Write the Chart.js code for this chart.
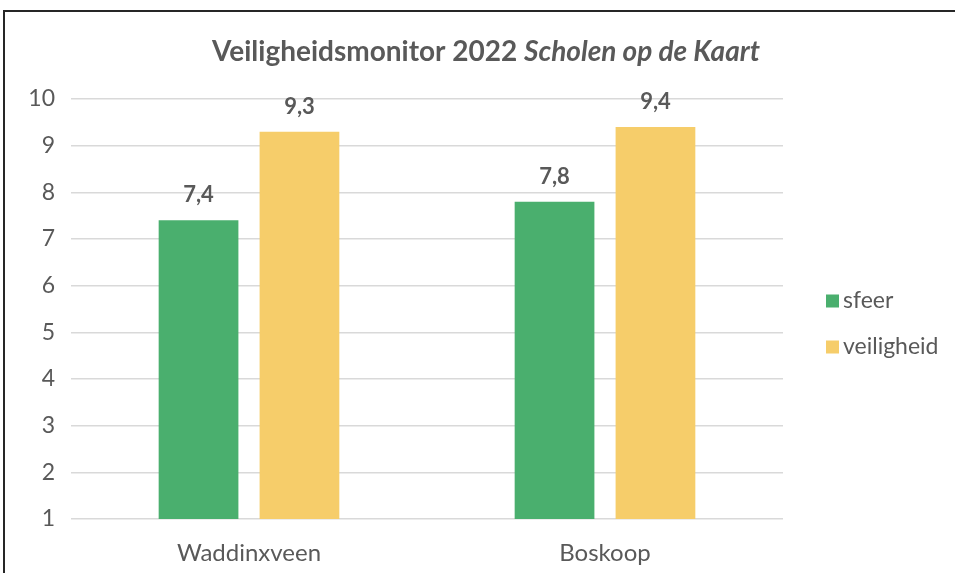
<!DOCTYPE html>
<html>
<head>
<meta charset="utf-8">
<script src="https://cdn.jsdelivr.net/npm/chart.js@4"></script>
<style>
    body { margin: 0; background: #fff; overflow: hidden; }
    #wrap { position: absolute; left: 0; top: 0; width: 955px; height: 573px; }
    #frame { position: absolute; left: 3px; top: 10px; width: 1000px; height: 1000px; border: 2px solid #262626; pointer-events: none; }
</style>
</head>
<body>
<div id="wrap"><canvas id="chart"></canvas></div>
<div id="frame"></div>
<script>
// DATOS
const categories = ['Waddinxveen', 'Boskoop'];
const sfeer = [7.4, 7.8];
const veiligheid = [9.3, 9.4];
const seriesNames = ['sfeer', 'veiligheid'];
const seriesColors = ['#4AAF6E', '#F6CD6A'];
const yTicks = [1, 2, 3, 4, 5, 6, 7, 8, 9, 10];
const titleMain = 'Veiligheidsmonitor 2022 ';
const titleItalic = 'Scholen op de Kaart';

const FONT = 'Lato, "Open Sans", sans-serif';
const GREY = '#595959';

// TITEL MET CURSIEF DEEL
const titlePlugin = {
    id: 'mixedTitle',
    afterDraw(chart) {
        const ctx = chart.ctx;
        ctx.save();
        ctx.fillStyle = GREY;
        ctx.textBaseline = 'middle';
        const f1 = 'bold 28px ' + FONT;
        const f2 = 'italic bold 28px ' + FONT;
        ctx.font = f1;
        const w1 = ctx.measureText(titleMain).width;
        ctx.font = f2;
        const w2 = ctx.measureText(titleItalic).width;
        let x = 486 - (w1 + w2) / 2;
        ctx.font = f1;
        ctx.fillText(titleMain, x, 52);
        ctx.font = f2;
        ctx.fillText(titleItalic, x + w1, 52);
        ctx.restore();
    }
};

// WAARDEN BOVEN DE STAAFJES
const labelPlugin = {
    id: 'barLabels',
    afterDatasetsDraw(chart) {
        const ctx = chart.ctx;
        ctx.save();
        ctx.fillStyle = GREY;
        ctx.font = 'bold 22px ' + FONT;
        ctx.textAlign = 'center';
        ctx.textBaseline = 'middle';
        chart.data.datasets.forEach((ds, i) => {
            chart.getDatasetMeta(i).data.forEach((bar, j) => {
                const txt = ds.data[j].toFixed(1).replace('.', ',');
                ctx.fillText(txt, bar.x, bar.y - 25);
            });
        });
        ctx.restore();
    }
};

// LEGENDA RECHTS (zoals Excel: klein vierkantje, tekst er vlak naast)
const legendPlugin = {
    id: 'sideLegend',
    afterDraw(chart) {
        const ctx = chart.ctx;
        const x = chart.chartArea.right + 43;
        const y0 = 301;
        ctx.save();
        ctx.font = '23px ' + FONT;
        ctx.textBaseline = 'middle';
        chart.data.datasets.forEach((ds, i) => {
            const y = y0 + i * 46;
            ctx.fillStyle = ds.backgroundColor;
            ctx.fillRect(x, y - 6.5, 13, 13);
            ctx.fillStyle = GREY;
            ctx.fillText(ds.label, x + 17, y);
        });
        ctx.restore();
    }
};

new Chart(document.getElementById('chart'), {
    type: 'bar',
    data: {
        labels: categories,
        datasets: [
            { label: seriesNames[0], data: sfeer, backgroundColor: seriesColors[0] },
            { label: seriesNames[1], data: veiligheid, backgroundColor: seriesColors[1] }
        ]
    },
    options: {
        responsive: true,
        maintainAspectRatio: false,
        animation: false,
        categoryPercentage: 0.567,
        barPercentage: 0.79,
        layout: { padding: { top: 99, right: 172, bottom: 0, left: 0 } },
        scales: {
            x: {
                grid: { display: false },
                border: { display: false },
                ticks: { color: GREY, font: { family: FONT, size: 24 }, padding: 12 },
                afterFit(s) { s.height = 54; }
            },
            y: {
                min: 1,
                max: 10,
                afterBuildTicks(s) { s.ticks = yTicks.map(v => ({ value: v })); },
                grid: { color: '#d9d9d9', lineWidth: 1.5, drawTicks: false },
                border: { display: false },
                ticks: { color: GREY, font: { family: FONT, size: 23 }, padding: 16 },
                afterFit(s) { s.width = 71; }
            }
        },
        plugins: {
            title: { display: false },
            tooltip: { enabled: false },
            legend: { display: false }
        }
    },
    plugins: [titlePlugin, labelPlugin, legendPlugin]
});
</script>
</body>
</html>
